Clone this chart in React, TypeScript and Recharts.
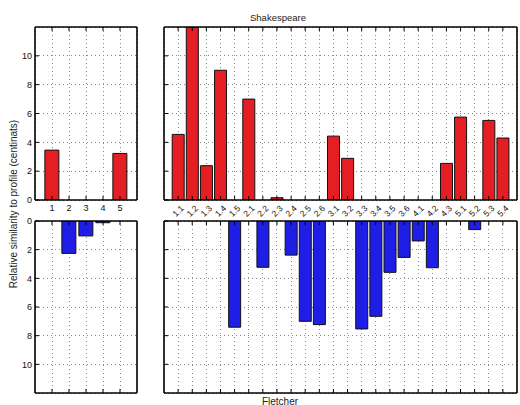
import { BarChart, Bar, XAxis, YAxis, CartesianGrid } from "recharts";

const bookLabels = ["1", "2", "3", "4", "5"];
const sceneLabels = [
  "1.1", "1.2", "1.3", "1.4", "1.5",
  "2.1", "2.2", "2.3", "2.4", "2.5", "2.6",
  "3.1", "3.2", "3.3", "3.4", "3.5", "3.6",
  "4.1", "4.2", "4.3",
  "5.1", "5.2", "5.3", "5.4",
];
const yTicks = [0, 2, 4, 6, 8, 10];

// Shakespeare (top, upward) and Fletcher (bottom, downward)
const shakespeareBooks = [3.46, 0, 0, 0, 3.23];
const fletcherBooks = [0, 2.26, 1.04, 0.12, 0];
const shakespeareScenes = [
  4.55, 12, 2.38, 9.0, 0,
  7.0, 0, 0.16, 0, 0, 0,
  4.43, 2.89, 0, 0, 0, 0,
  0, 0, 2.54,
  5.75, 0, 5.52, 4.3,
];
const fletcherScenes = [
  0, 0, 0, 0, 7.41,
  0, 3.23, 0, 2.38, 7.0, 7.23,
  0, 0, 7.53, 6.65, 3.58, 2.54,
  1.39, 3.26, 0,
  0, 0.6, 0, 0,
];

const FONT = '"Liberation Sans", Arial, Helvetica, sans-serif';
const RED = "#e41e22";
const BLUE = "#1e1ee6";

type PanelProps = {
  x: number;
  y: number;
  w: number;
  h: number;
  labels: string[];
  values: number[];
  color: string;
  down?: boolean;
  yLabels?: boolean;
  xLabels?: "plain" | "rotated";
};

// tick={false} also drops the grid lines, so hidden labels render nothing instead
const NoTick = () => <g />;

function RotatedTick(props: any) {
  const { x, y, payload } = props;
  const cy = y + 6;
  return (
    <text
      x={x}
      y={cy}
      textAnchor="middle"
      dominantBaseline="central"
      fontSize={8.5}
      fill="#111"
      fontFamily={FONT}
      transform={`rotate(-45 ${x} ${cy})`}
    >
      {payload.value}
    </text>
  );
}

function Panel({ x, y, w, h, labels, values, color, down, yLabels, xLabels }: PanelProps) {
  const data = labels.map((name, i) => ({ name, value: values[i] }));
  const pad = w / (labels.length + 1) / 2;
  const ml = 40, mt = 5, mr = 5, mb = 30;
  // axes with zero size are not drawn, so keep at least 1px
  const yw = yLabels ? 30 : 1;
  const xh = xLabels ? 25 : 1;
  const line = { stroke: "#000", strokeWidth: 1.6 };
  const tickLine = { stroke: "#000", strokeWidth: 1 };

  let xTick: any = <NoTick />;
  if (xLabels === "plain") xTick = { fontSize: 9, fill: "#111", fontFamily: FONT };
  if (xLabels === "rotated") xTick = <RotatedTick />;

  return (
    <div style={{ position: "absolute", left: x - ml, top: y - mt }}>
      <BarChart
        width={w + ml + mr}
        height={h + mt + mb}
        data={data}
        margin={{ top: mt - 1, right: mr - 1, left: ml - yw, bottom: mb - xh }}
        barCategoryGap="8%"
      >
        <CartesianGrid stroke="#888" strokeDasharray="1 3" shapeRendering="crispEdges" />
        <XAxis
          dataKey="name"
          height={xh}
          padding={{ left: pad, right: pad }}
          interval={0}
          tickSize={-4}
          tickMargin={9}
          tickLine={tickLine}
          axisLine={line}
          tick={xTick}
        />
        <XAxis
          xAxisId="top"
          orientation="top"
          dataKey="name"
          height={1}
          padding={{ left: pad, right: pad }}
          interval={0}
          tickSize={-4}
          tickLine={tickLine}
          axisLine={line}
          tick={<NoTick />}
        />
        <YAxis
          type="number"
          domain={[0, 12]}
          ticks={yTicks}
          reversed={down}
          allowDataOverflow
          width={yw}
          interval={0}
          tickSize={-4}
          tickMargin={7}
          tickLine={tickLine}
          axisLine={line}
          tick={yLabels ? { fontSize: 9, fill: "#111", fontFamily: FONT } : <NoTick />}
        />
        <YAxis
          yAxisId="right"
          orientation="right"
          type="number"
          domain={[0, 12]}
          ticks={yTicks}
          reversed={down}
          width={1}
          interval={0}
          tickSize={-4}
          tickLine={tickLine}
          axisLine={line}
          tick={<NoTick />}
        />
        <Bar dataKey="value" fill={color} stroke="#111" strokeWidth={1} isAnimationActive={false} />
      </BarChart>
    </div>
  );
}

export default function App() {
  return (
    <div style={{ position: "absolute", left: 0, top: 0, width: 520, height: 405, background: "#fff" }}>
      <Panel x={35} y={27} w={102} h={173} labels={bookLabels} values={shakespeareBooks} color={RED} yLabels xLabels="plain" />
      <Panel x={164} y={27} w={353} h={173} labels={sceneLabels} values={shakespeareScenes} color={RED} xLabels="rotated" />
      <Panel x={35} y={221} w={102} h={172} labels={bookLabels} values={fletcherBooks} color={BLUE} down yLabels />
      <Panel x={164} y={221} w={353} h={172} labels={sceneLabels} values={fletcherScenes} color={BLUE} down />
      <svg width={520} height={405} style={{ position: "absolute", left: 0, top: 0, pointerEvents: "none" }}>
        <text x={278} y={17} textAnchor="middle" dominantBaseline="central" fontSize={9.5} fill="#222" fontFamily={FONT}>
          Shakespeare
        </text>
        <text x={280} y={401} textAnchor="middle" dominantBaseline="central" fontSize={10} fill="#222" fontFamily={FONT}>
          Fletcher
        </text>
        <text
          x={13}
          y={204}
          textAnchor="middle"
          dominantBaseline="central"
          fontSize={10}
          fill="#222"
          fontFamily={FONT}
          transform="rotate(-90 13 204)"
        >
          Relative similarity to profile (centinats)
        </text>
      </svg>
    </div>
  );
}
